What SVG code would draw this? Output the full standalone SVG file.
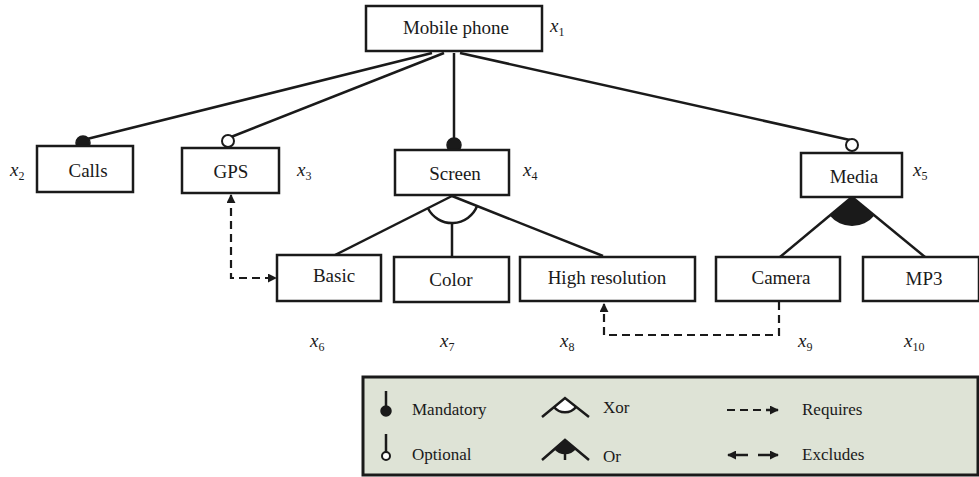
<svg xmlns="http://www.w3.org/2000/svg" width="979" height="477" viewBox="0 0 979 477">
<defs>
<style>
.box{fill:#fff;stroke:#1a1a1a;stroke-width:2.5}
.lbl{font-family:"Liberation Serif","Times New Roman",serif;font-size:19px;fill:#1a1a1a;text-anchor:middle}
.var{font-family:"Liberation Serif","Times New Roman",serif;font-size:19px;font-style:italic;fill:#1a1a1a}
.sub{font-size:12px;font-style:normal}
.leg{font-family:"Liberation Serif","Times New Roman",serif;font-size:17px;fill:#1a1a1a}
.ln{stroke:#1a1a1a;stroke-width:2.5;fill:none}
.dash{stroke:#1a1a1a;stroke-width:2.2;fill:none;stroke-dasharray:8 5}
.dot{fill:#1a1a1a;stroke:#1a1a1a;stroke-width:1.5}
.odot{fill:#fff;stroke:#1a1a1a;stroke-width:2}
</style>
<marker id="ah" viewBox="0 0 10 10" refX="9" refY="5" markerWidth="9" markerHeight="9" markerUnits="userSpaceOnUse" orient="auto-start-reverse">
<path d="M0,0 L10,5 L0,10 z" fill="#1a1a1a"/>
</marker>
</defs>
<rect width="979" height="477" fill="#fff"/>

<g id="connectors">
<line class="ln" x1="432" y1="53" x2="83" y2="140"/>
<line class="ln" x1="444" y1="53" x2="231" y2="137"/>
<line class="ln" x1="454" y1="53" x2="454" y2="140"/>
<line class="ln" x1="460" y1="53" x2="850" y2="140"/>
<circle class="dot" cx="83" cy="143" r="7"/>
<circle class="odot" cx="228" cy="141" r="6"/>
<circle class="dot" cx="454" cy="145" r="7"/>
<circle class="odot" cx="852" cy="145" r="6"/>

<line class="ln" x1="452" y1="196" x2="333" y2="256"/>
<line class="ln" x1="452" y1="223" x2="452" y2="257"/>
<line class="ln" x1="452" y1="196" x2="603" y2="256"/>
<path class="ln" d="M427.8 208 A27 27 0 0 0 477.2 205.8" stroke-width="2"/>

<line class="ln" x1="852" y1="197" x2="780" y2="257"/>
<line class="ln" x1="852" y1="197" x2="925" y2="257"/>
<path d="M852 197 L829.7 215.6 A29 29 0 0 0 874.4 215.4 Z" fill="#1a1a1a"/>

<path class="dash" d="M231 195 L231 278 L276 278" marker-start="url(#ah)" marker-end="url(#ah)"/>
<path class="dash" d="M779 302 L779 335 L604 335 L604 304" marker-end="url(#ah)"/>
</g>

<g id="n1">
<rect class="box" x="366" y="6" width="176" height="45"/>
<text class="lbl" x="456" y="34">Mobile phone</text>
<text class="var" x="550" y="32">x<tspan class="sub" dy="4">1</tspan></text>
</g>
<g id="n2">
<rect class="box" x="37" y="146" width="96" height="46"/>
<text class="lbl" x="88" y="177">Calls</text>
<text class="var" x="10" y="176">x<tspan class="sub" dy="4">2</tspan></text>
</g>
<g id="n3">
<rect class="box" x="182" y="148" width="97" height="45"/>
<text class="lbl" x="231" y="178">GPS</text>
<text class="var" x="297" y="176">x<tspan class="sub" dy="4">3</tspan></text>
</g>
<g id="n4">
<rect class="box" x="395" y="150" width="114" height="45"/>
<text class="lbl" x="455" y="180">Screen</text>
<text class="var" x="523" y="176">x<tspan class="sub" dy="4">4</tspan></text>
</g>
<g id="n5">
<rect class="box" x="801" y="153" width="101" height="44"/>
<text class="lbl" x="854" y="183">Media</text>
<text class="var" x="913" y="176">x<tspan class="sub" dy="4">5</tspan></text>
</g>
<g id="n6">
<rect class="box" x="277" y="255" width="104" height="46"/>
<text class="lbl" x="334" y="282">Basic</text>
<text class="var" x="310" y="347">x<tspan class="sub" dy="4">6</tspan></text>
</g>
<g id="n7">
<rect class="box" x="394" y="257" width="115" height="45"/>
<text class="lbl" x="451" y="286">Color</text>
<text class="var" x="440" y="347">x<tspan class="sub" dy="4">7</tspan></text>
</g>
<g id="n8">
<rect class="box" x="520" y="257" width="175" height="44" stroke-width="3.5"/>
<text class="lbl" x="607" y="284">High resolution</text>
<text class="var" x="560" y="347">x<tspan class="sub" dy="4">8</tspan></text>
</g>
<g id="n9">
<rect class="box" x="716" y="257" width="124" height="44"/>
<text class="lbl" x="781" y="284">Camera</text>
<text class="var" x="798" y="347">x<tspan class="sub" dy="4">9</tspan></text>
</g>
<g id="n10">
<rect class="box" x="863" y="257" width="116" height="44"/>
<text class="lbl" x="924" y="285">MP3</text>
<text class="var" x="904" y="347">x<tspan class="sub" dy="4">10</tspan></text>
</g>

<g id="legend">
<rect x="363" y="377" width="615" height="98" fill="#dee3d6" stroke="#1a1a1a" stroke-width="3"/>
<line class="ln" x1="386" y1="391" x2="386" y2="408"/>
<circle class="dot" cx="386" cy="411" r="5"/>
<text class="leg" x="412" y="415">Mandatory</text>
<line class="ln" x1="386" y1="434" x2="386" y2="452"/>
<circle class="odot" cx="386" cy="456" r="4"/>
<text class="leg" x="412" y="460">Optional</text>

<path d="M554 407 A14 14 0 0 0 576 407 L565 398 Z" fill="#fff"/>
<path class="ln" d="M542 417 L565 398 L589 417"/>
<path class="ln" d="M554 407 A14 14 0 0 0 576 407" stroke-width="1.5"/>
<text class="leg" x="603" y="413">Xor</text>

<path d="M565 440 L554 449 A14 14 0 0 0 576 449 Z" fill="#1a1a1a"/>
<path class="ln" d="M542 460 L565 440 L589 460"/>
<line class="ln" x1="565" y1="452" x2="565" y2="460" stroke-width="2"/>
<text class="leg" x="603" y="462">Or</text>

<line class="dash" x1="727" y1="410" x2="770" y2="410" stroke-dasharray="8 5"/>
<line class="ln" x1="766" y1="410" x2="778" y2="410" stroke-width="2.2" marker-end="url(#ah)"/>
<text class="leg" x="802" y="415">Requires</text>

<line class="ln" x1="748" y1="455" x2="728" y2="455" stroke-width="2.2" marker-end="url(#ah)"/>
<line class="ln" x1="758" y1="455" x2="778" y2="455" stroke-width="2.2" marker-end="url(#ah)"/>
<text class="leg" x="802" y="460">Excludes</text>
</g>
</svg>
